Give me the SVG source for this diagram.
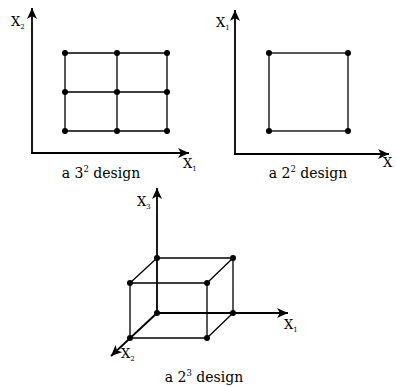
<svg xmlns="http://www.w3.org/2000/svg" width="396" height="386" viewBox="0 0 396 386">
<style>
.ax{stroke:#000;stroke-width:1.8;fill:none}
.ed{stroke:#000;stroke-width:1.3;fill:none}
.pt{fill:#000}
.t{font-family:'DejaVu Serif','Liberation Serif',serif;fill:#000}
.lb{font-size:13px}
.sb{font-size:7px}
.cap{font-size:14px;text-anchor:middle}
.sp{font-size:8.5px}
</style>
<defs>
<marker id="ar" markerUnits="userSpaceOnUse" markerWidth="12" markerHeight="10" refX="11" refY="5" orient="auto">
<path d="M0,0 L11,5 L0,10 L3,5 Z" fill="#000"/>
</marker>
</defs>
<rect width="396" height="386" fill="#fff"/>
<g id="connectors">
<line class="ax" x1="32" y1="153" x2="32" y2="8" marker-end="url(#ar)"/>
<line class="ax" x1="31" y1="153" x2="189" y2="153" marker-end="url(#ar)"/>
<line class="ax" x1="235" y1="154" x2="235" y2="10" marker-end="url(#ar)"/>
<line class="ax" x1="234" y1="154" x2="389" y2="154" marker-end="url(#ar)"/>
<line class="ax" x1="157" y1="313" x2="157" y2="188" marker-end="url(#ar)"/>
<line class="ax" x1="157" y1="313" x2="288" y2="313" marker-end="url(#ar)"/>
<line class="ax" x1="157" y1="313" x2="111" y2="356" marker-end="url(#ar)"/>
</g>
<g id="grid32">
<path class="ed" d="M65,53H167M65,92H167M65,131H167M65,53V131M117,53V131M167,53V131"/>
<circle class="pt" cx="65" cy="53" r="3"/><circle class="pt" cx="117" cy="53" r="3"/><circle class="pt" cx="167" cy="53" r="3"/>
<circle class="pt" cx="65" cy="92" r="3"/><circle class="pt" cx="117" cy="92" r="3"/><circle class="pt" cx="167" cy="92" r="3"/>
<circle class="pt" cx="65" cy="131" r="3"/><circle class="pt" cx="117" cy="131" r="3"/><circle class="pt" cx="167" cy="131" r="3"/>
<text class="t lb" x="11" y="26">X<tspan class="sb" dy="3">2</tspan></text>
<text class="t lb" x="183" y="168">X<tspan class="sb" dy="3">1</tspan></text>
<text class="t cap" x="101" y="178">a 3<tspan class="sp" dy="-6">2</tspan><tspan dy="6"> design</tspan></text>
</g>
<g id="grid22">
<rect class="ed" x="269" y="53" width="79" height="78"/>
<circle class="pt" cx="269" cy="53" r="3"/><circle class="pt" cx="348" cy="53" r="3"/>
<circle class="pt" cx="269" cy="131" r="3"/><circle class="pt" cx="348" cy="131" r="3"/>
<text class="t lb" x="216" y="27">X<tspan class="sb" dy="3">1</tspan></text>
<text class="t lb" x="383" y="167">X</text>
<text class="t cap" x="308" y="178">a 2<tspan class="sp" dy="-6">2</tspan><tspan dy="6"> design</tspan></text>
</g>
<g id="cube23">
<path class="ed" d="M130,283H207V338H130ZM157,258H233V313M130,283L157,258M207,283L233,258M207,338L233,313"/>
<circle class="pt" cx="157" cy="258" r="3"/><circle class="pt" cx="233" cy="258" r="3"/>
<circle class="pt" cx="130" cy="283" r="3"/><circle class="pt" cx="207" cy="283" r="3"/>
<circle class="pt" cx="157" cy="313" r="3"/><circle class="pt" cx="233" cy="313" r="3"/>
<circle class="pt" cx="130" cy="338" r="3"/><circle class="pt" cx="207" cy="338" r="3"/>
<text class="t lb" x="137" y="206">X<tspan class="sb" dy="3">3</tspan></text>
<text class="t lb" x="284" y="329">X<tspan class="sb" dy="3">1</tspan></text>
<text class="t lb" x="121" y="358">X<tspan class="sb" dy="3">2</tspan></text>
<text class="t cap" x="204" y="382">a 2<tspan class="sp" dy="-6">3</tspan><tspan dy="6"> design</tspan></text>
</g>
</svg>
